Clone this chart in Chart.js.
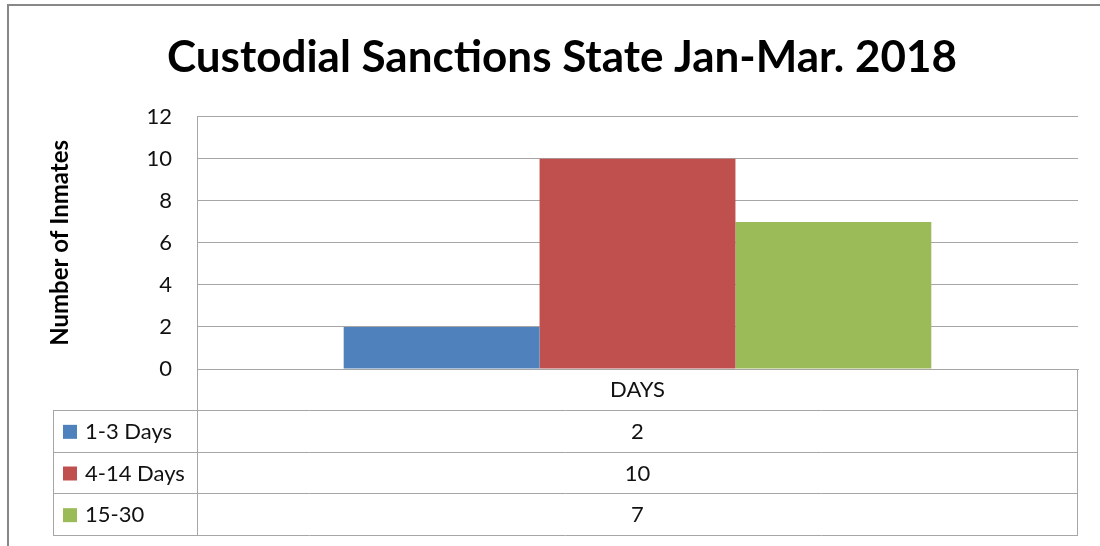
<!DOCTYPE html>
<html>
<head>
<meta charset="utf-8">
<script src="https://cdn.jsdelivr.net/npm/chart.js@4"></script>
<style>
  html, body { margin: 0; padding: 0; background: #fff; }
  #wrap { width: 1100px; height: 546px; }
</style>
</head>
<body>
<div id="wrap"><canvas id="sanctionsChart"></canvas></div>
<script>
const categories = ["DAYS"];
const seriesNames = ["1-3 Days", "4-14 Days", "15-30"];
const oneToThreeDays = [2];
const fourToFourteenDays = [10];
const fifteenToThirty = [7];
const yTicks = { min: 0, max: 12, step: 2 };

const gridColor = "#a6a6a6";
const textColor = "#111111";

// excel style data table under the axis, with legend keys in first column
const dataTable = {
    id: "dataTable",
    afterDraw(chart) {
        const ctx = chart.ctx;
        const area = chart.chartArea;
        const xAxis = chart.scales.x;
        const left = 53;
        const top = xAxis.bottom;
        const bottom = 535;
        const rowH = (bottom - top) / chart.data.datasets.length;

        ctx.save();
        ctx.strokeStyle = gridColor;
        ctx.lineWidth = 1;
        ctx.beginPath();
        // header row sides
        ctx.moveTo(area.left + 0.5, area.bottom);
        ctx.lineTo(area.left + 0.5, bottom + 0.5);
        ctx.moveTo(area.right - 0.5, area.bottom);
        ctx.lineTo(area.right - 0.5, bottom + 0.5);
        ctx.moveTo(left + 0.5, top);
        ctx.lineTo(left + 0.5, bottom + 0.5);
        for (let i = 0; i <= chart.data.datasets.length; i++) {
            const y = Math.round(top + i * rowH) + 0.5;
            ctx.moveTo(left, y);
            ctx.lineTo(area.right, y);
        }
        ctx.stroke();

        ctx.font = "22px Lato";
        ctx.textBaseline = "middle";
        chart.data.datasets.forEach((ds, i) => {
            const cy = top + i * rowH + rowH / 2 + 1;
            ctx.fillStyle = ds.backgroundColor;
            ctx.fillRect(63, cy - 7, 14, 14);
            ctx.fillStyle = textColor;
            ctx.textAlign = "left";
            ctx.fillText(ds.label, 85, cy);
            ctx.textAlign = "center";
            ds.data.forEach((v, j) => {
                ctx.fillText(String(v), xAxis.getPixelForValue(j), cy);
            });
        });

        // outer chart frame
        ctx.strokeStyle = "#888888";
        ctx.lineWidth = 2;
        ctx.beginPath();
        ctx.moveTo(8, 546);
        ctx.lineTo(8, 5);
        ctx.lineTo(1100, 5);
        ctx.stroke();
        ctx.restore();
    }
};

const data = {
    labels: categories,
    datasets: [
        { label: seriesNames[0], data: oneToThreeDays, backgroundColor: "#4f81bd" },
        { label: seriesNames[1], data: fourToFourteenDays, backgroundColor: "#c0504d" },
        { label: seriesNames[2], data: fifteenToThirty, backgroundColor: "#9bbb59" },
    ],
};

const config = {
    type: "bar",
    data: data,
    options: {
        responsive: true,
        maintainAspectRatio: false,
        animation: false,
        categoryPercentage: 0.667,
        barPercentage: 1,
        layout: {
            padding: { left: 46, right: 22, top: 0, bottom: 136 }
        },
        plugins: {
            legend: { display: false },
            tooltip: { enabled: false },
            title: {
                display: true,
                text: "Custodial Sanctions State Jan-Mar. 2018",
                color: "#000000",
                font: { family: "Lato", size: 44, weight: "bold", lineHeight: 1.2 },
                padding: { top: 31, bottom: 33 },
            },
        },
        scales: {
            x: {
                grid: { display: false, drawTicks: false },
                border: { display: true, color: gridColor },
                ticks: { color: textColor, font: { family: "Lato", size: 22 }, padding: 8 },
                afterFit(scale) { scale.height = 41; },
            },
            y: {
                min: yTicks.min,
                max: yTicks.max,
                grid: { color: gridColor, drawTicks: false },
                border: { display: true, color: gridColor },
                ticks: { stepSize: yTicks.step, color: textColor, font: { family: "Lato", size: 22 }, padding: 25 },
                title: {
                    display: true,
                    text: "Number of Inmates",
                    color: "#000000",
                    font: { family: "Lato", size: 24, weight: "bold" },
                    padding: 0,
                },
                afterFit(scale) { scale.width = 151; },
            }
        }
    },
    plugins: [dataTable],
};

new Chart(document.getElementById("sanctionsChart"), config);
</script>
</body>
</html>
